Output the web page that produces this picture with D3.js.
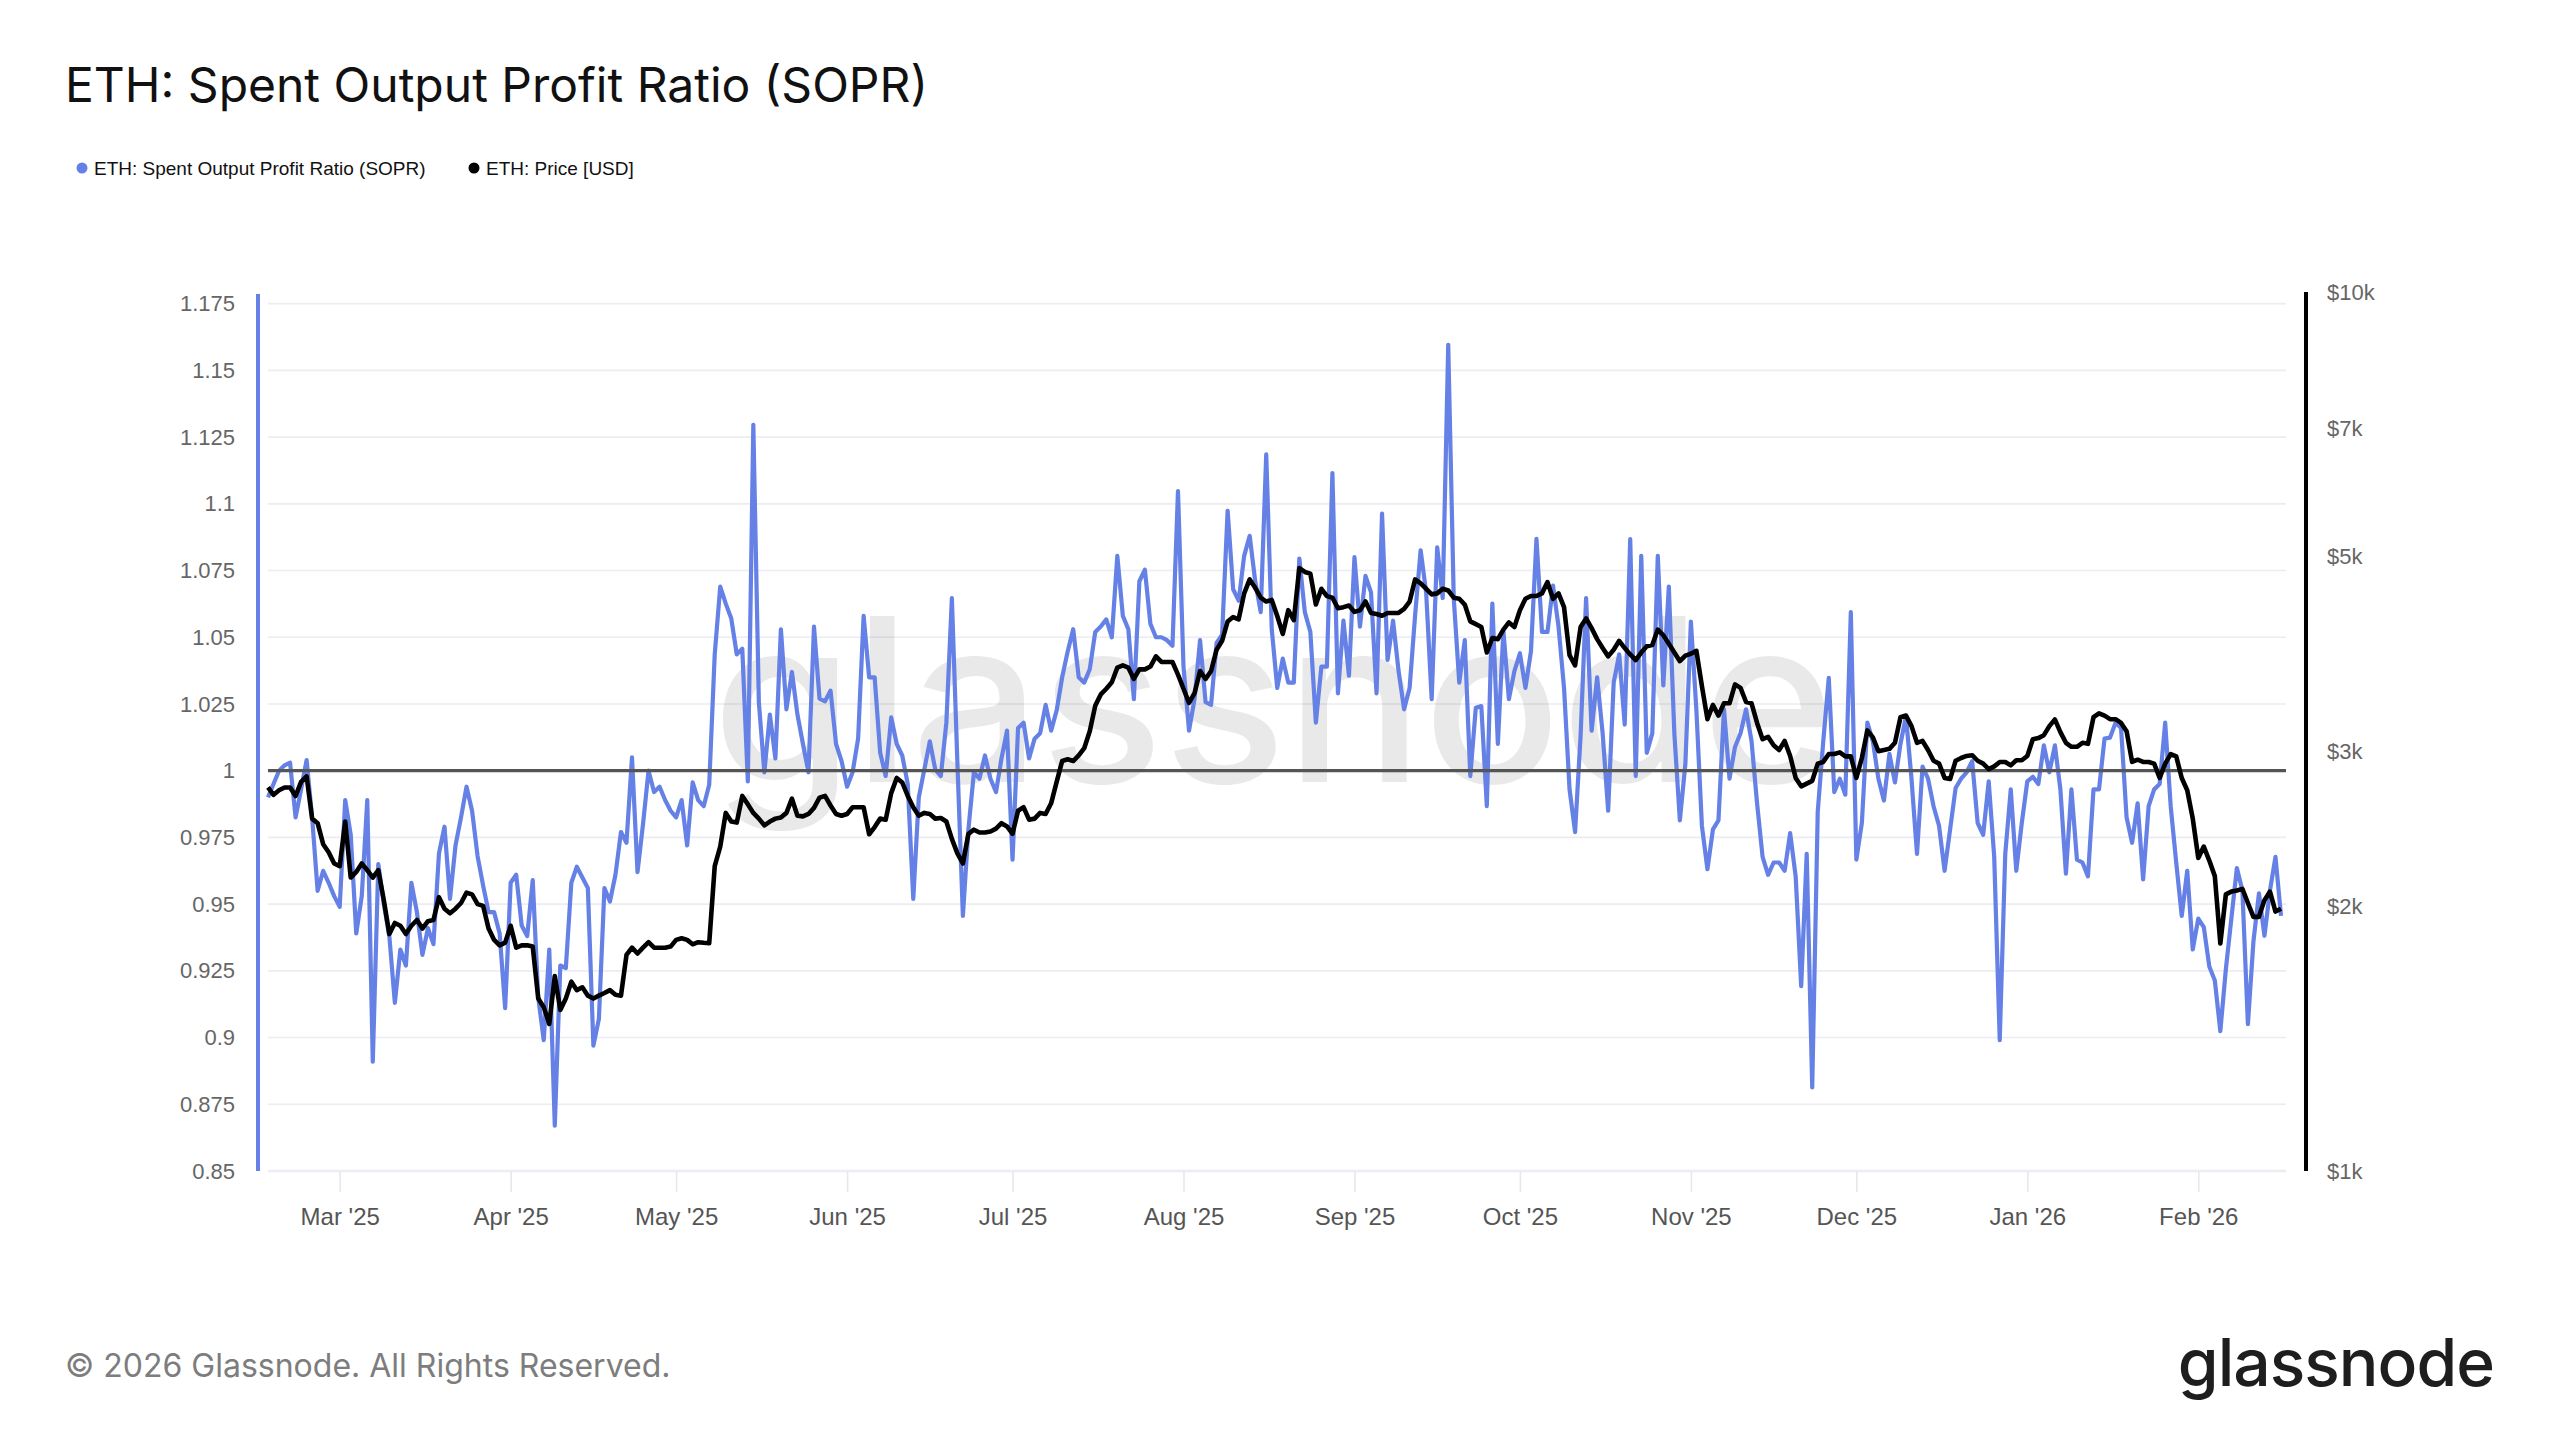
<!DOCTYPE html>
<html>
<head>
<meta charset="utf-8">
<title>ETH: Spent Output Profit Ratio (SOPR)</title>
<script src="https://cdn.jsdelivr.net/npm/d3@7.9.0/dist/d3.min.js"></script>
<style>
  html, body { margin: 0; padding: 0; background: #fff; }
  svg { display: block; }
  text { font-family: 'Liberation Sans', Arial, sans-serif; }
</style>
</head>
<body>
<div id="chart"></div>
<script>
/* ───────────────────────────────────────────── */
/* 1. Data (daily)       */
/* ───────────────────────────────────────────── */
const startDate = '2025-02-16';

const sopr = [
  0.990, 0.995, 1.000, 1.002, 1.003, 0.9825, 0.993, 1.004, 0.9825, 0.955,
  0.9625, 0.958, 0.953, 0.949, 0.989, 0.976, 0.939, 0.953, 0.989, 0.891,
  0.965, 0.950, 0.938, 0.913, 0.933, 0.927, 0.958, 0.947, 0.931, 0.941,
  0.935, 0.969, 0.979, 0.952, 0.972, 0.9825, 0.994, 0.985, 0.968, 0.957,
  0.947, 0.947, 0.939, 0.911, 0.958, 0.961, 0.942, 0.938, 0.959, 0.915,
  0.899, 0.933, 0.867, 0.927, 0.926, 0.958, 0.964, 0.960, 0.956, 0.897,
  0.907, 0.956, 0.951, 0.961, 0.977, 0.973, 1.005, 0.962, 0.980, 1.000,
  0.992, 0.994, 0.989, 0.985, 0.9825, 0.989, 0.972, 0.9956, 0.989, 0.9867,
  0.9947, 1.0436, 1.069, 1.0626, 1.057, 1.0436, 1.0457, 0.996, 1.1296, 1.0257,
  0.9994, 1.021, 1.0046, 1.053, 1.023, 1.037, 1.021, 1.010, 0.9994, 1.054,
  1.027, 1.026, 1.030, 1.010, 1.0036, 0.994, 0.9994, 1.012, 1.058, 1.035,
  1.035, 1.0067, 0.998, 1.020, 1.010, 1.0057, 0.995, 0.952, 0.990, 1.0004,
  1.011, 1.0004, 0.998, 1.018, 1.0647, 1.003, 0.9456, 0.978, 0.9994, 0.997,
  1.0057, 0.997, 0.992, 1.0046, 1.015, 0.9667, 1.016, 1.018, 1.0046, 1.012,
  1.014, 1.0247, 1.015, 1.0226, 1.035, 1.0447, 1.053, 1.035, 1.033, 1.038,
  1.052, 1.054, 1.0567, 1.050, 1.0805, 1.058, 1.053, 1.0268, 1.071, 1.0753,
  1.055, 1.050, 1.050, 1.0489, 1.0468, 1.1048, 1.039, 1.015, 1.0268, 1.0489,
  1.0257, 1.0247, 1.0479, 1.051, 1.0974, 1.068, 1.0637, 1.0805, 1.088, 1.071,
  1.0594, 1.1185, 1.053, 1.031, 1.042, 1.033, 1.033, 1.0795, 1.0594, 1.052,
  1.018, 1.039, 1.039, 1.1115, 1.029, 1.0562, 1.0356, 1.080, 1.054, 1.073,
  1.0668, 1.029, 1.0963, 1.0415, 1.0562, 1.0373, 1.023, 1.031, 1.0584, 1.0826,
  1.0668, 1.0268, 1.0837, 1.0647, 1.1596, 1.0647, 1.033, 1.0489, 0.998, 1.0236,
  1.0242, 0.9867, 1.0626, 1.010, 1.0525, 1.0268, 1.0373, 1.044, 1.031, 1.0447,
  1.0869, 1.052, 1.052, 1.0694, 1.054, 1.031, 0.993, 0.977, 1.013, 1.0647,
  1.015, 1.035, 1.014, 0.985, 1.033, 1.0436, 1.0173, 1.0868, 0.998, 1.0805,
  1.0067, 1.014, 1.0805, 1.032, 1.069, 1.014, 0.9814, 1.0025, 1.0559, 1.0226,
  0.9793, 0.9631, 0.978, 0.9814, 1.023, 0.997, 1.0089, 1.014, 1.023, 1.011,
  0.9878, 0.9677, 0.961, 0.9656, 0.9656, 0.9625, 0.9766, 0.9604, 0.9193, 0.9688,
  0.8813, 0.9846, 1.011, 1.0348, 0.992, 0.997, 0.991, 1.0594, 0.9667, 0.9804,
  1.018, 1.011, 0.997, 0.9888, 1.0063, 0.9956, 1.010, 1.0204, 0.997, 0.9688,
  1.0015, 0.997, 0.9867, 0.9793, 0.9625, 0.978, 0.9935, 0.997, 0.9994, 1.0036,
  0.9804, 0.976, 0.996, 0.9677, 0.899, 0.9688, 0.993, 0.9625, 0.9804, 0.996,
  0.9977, 0.995, 1.0095, 0.9994, 1.0095, 0.993, 0.9614, 0.993, 0.9667, 0.9656,
  0.9604, 0.993, 0.993, 1.012, 1.0124, 1.018, 1.016, 0.9825, 0.973, 0.9878,
  0.9593, 0.9867, 0.993, 0.995, 1.018, 0.9867, 0.9656, 0.9456, 0.9625, 0.933,
  0.9446, 0.9414, 0.9266, 0.9214, 0.9024, 0.9256, 0.9446, 0.9635, 0.9551, 0.905,
  0.936, 0.954, 0.9382, 0.9551, 0.9677, 0.9456
];

const price = [
  2731, 2679, 2711, 2731, 2731, 2671, 2771, 2812, 2517, 2487,
  2354, 2305, 2238, 2222, 2498, 2157, 2189, 2238, 2199, 2157,
  2199, 2033, 1860, 1915, 1901, 1860, 1901, 1930, 1887, 1924,
  1930, 2049, 1988, 1964, 1988, 2018, 2073, 2064, 2012, 2003,
  1887, 1832, 1806, 1819, 1901, 1795, 1806, 1806, 1800, 1571,
  1536, 1470, 1666, 1525, 1571, 1642, 1606, 1618, 1583, 1571,
  1583, 1594, 1606, 1587, 1583, 1761, 1795, 1768, 1795, 1821,
  1795, 1795, 1795, 1800, 1832, 1840, 1832, 1811, 1821, 1818,
  1816, 2222, 2339, 2555, 2498, 2491, 2671, 2613, 2555, 2517,
  2473, 2498, 2517, 2525, 2555, 2652, 2536, 2532, 2548, 2589,
  2659, 2671, 2605, 2548, 2536, 2548, 2593, 2593, 2593, 2416,
  2462, 2517, 2510, 2691, 2800, 2767, 2671, 2593, 2536, 2555,
  2548, 2517, 2521, 2498, 2387, 2298, 2238, 2419, 2445, 2427,
  2427, 2434, 2452, 2487, 2466, 2419, 2570, 2593, 2510, 2517,
  2555, 2548, 2620, 2771, 2927, 2940, 2927, 2970, 3027, 3165,
  3384, 3485, 3537, 3598, 3738, 3760, 3738, 3629, 3721, 3721,
  3749, 3850, 3794, 3794, 3794, 3671, 3537, 3408, 3496, 3705,
  3629, 3705, 3918, 4010, 4219, 4268, 4243, 4541, 4710, 4608,
  4490, 4445, 4464, 4280, 4083, 4345, 4233, 4853, 4803, 4782,
  4410, 4596, 4508, 4490, 4367, 4380, 4399, 4326, 4345, 4445,
  4314, 4302, 4283, 4314, 4314, 4314, 4360, 4445, 4710, 4661,
  4596, 4529, 4541, 4596, 4575, 4490, 4477, 4410, 4220, 4189,
  4158, 3889, 4040, 4028, 4130, 4208, 4158, 4345, 4477, 4510,
  4510, 4541, 4677, 4477, 4541, 4380, 3862, 3760, 4158, 4252,
  4146, 4028, 3935, 3850, 3918, 4010, 3935, 3870, 3813, 3889,
  3954, 3966, 4130, 4069, 3979, 3889, 3802, 3858, 3876, 3906,
  3562, 3266, 3390, 3297, 3405, 3405, 3578, 3545, 3416, 3405,
  3234, 3099, 3118, 3051, 3013, 3085, 2966, 2800, 2739, 2759,
  2779, 2907, 2920, 2981, 2981, 2994, 2963, 2963, 2800, 2950,
  3171, 3114, 3003, 3013, 3022, 3070, 3283, 3297, 3207, 3070,
  3085, 3013, 2929, 2907, 2800, 2792, 2929, 2950, 2966, 2972,
  2929, 2907, 2866, 2886, 2920, 2920, 2894, 2933, 2933, 2966,
  3099, 3108, 3132, 3207, 3264, 3157, 3070, 3038, 3038, 3070,
  3062, 3283, 3317, 3297, 3266, 3266, 3234, 3165, 2920, 2937,
  2920, 2920, 2907, 2800, 2907, 2981, 2963, 2800, 2711, 2517,
  2271, 2339, 2255, 2165, 1815, 2064, 2079, 2085, 2094, 2018,
  1946, 1946, 2033, 2079, 1973, 1988
];

const soprTicks  = [0.85, 0.875, 0.9, 0.925, 0.95, 0.975, 1, 1.025, 1.05, 1.075, 1.1, 1.125, 1.15, 1.175];
const priceTicks = [1000, 2000, 3000, 5000, 7000, 10000];
const monthTicks = ['2025-03-01', '2025-04-01', '2025-05-01', '2025-06-01', '2025-07-01', '2025-08-01',
                    '2025-09-01', '2025-10-01', '2025-11-01', '2025-12-01', '2026-01-01', '2026-02-01'];

const legendItems = [
  { label: 'ETH: Spent Output Profit Ratio (SOPR)', color: '#6581e6' },
  { label: 'ETH: Price [USD]', color: '#000' }
];

/* ───────────────────────────────────────────── */
/* 2. Layout                                     */
/* ───────────────────────────────────────────── */
const W = 2560, H = 1440;
const plot = { left: 268, right: 2281, gridL: 268, gridR: 2286, top: 293, bottom: 1171 };
const BLUE = '#6581e6';

const parse = d3.utcParse('%Y-%m-%d');
const t0 = parse(startDate);
const soprData  = sopr.map((v, i) => ({ date: d3.utcDay.offset(t0, i), v }));
const priceData = price.map((v, i) => ({ date: d3.utcDay.offset(t0, i), v }));

const x = d3.scaleUtc()
  .domain([t0, d3.utcDay.offset(t0, sopr.length - 1)])
  .range([plot.left, plot.right]);

const yL = d3.scaleLinear().domain([0.85, 1.179]).range([plot.bottom, plot.top]);
const yR = d3.scaleLog().domain([1000, 10000]).range([plot.bottom, 292]);

const svg = d3.select('#chart').append('svg')
  .attr('width', W).attr('height', H)
  .attr('viewBox', `0 0 ${W} ${H}`);

svg.append('rect').attr('width', W).attr('height', H).attr('fill', '#fff');

/* title + legend */
svg.append('text')
  .attr('x', 65).attr('y', 102)
  .style('font-family', 'Inter, sans-serif')
  .style('font-size', '48px')
  .attr('fill', '#111')
  .text('ETH: Spent Output Profit Ratio (SOPR)');

const legend = svg.append('g').attr('transform', 'translate(82,168)');
const legendX = [0, 392];
legendItems.forEach((d, i) => {
  const g = legend.append('g').attr('transform', `translate(${legendX[i]},0)`);
  g.append('circle').attr('r', 5.5).attr('fill', d.color);
  g.append('text').attr('x', 12).attr('dy', '0.35em')
    .style('font-size', '19px').attr('fill', '#111').text(d.label);
});

/* ───────────────────────────────────────────── */
/* 3. Grid, watermark                            */
/* ───────────────────────────────────────────── */
svg.append('g').attr('class', 'grid')
  .selectAll('line').data(soprTicks).join('line')
  .attr('x1', plot.gridL).attr('x2', plot.gridR)
  .attr('y1', d => yL(d)).attr('y2', d => yL(d))
  .attr('stroke', '#ececf2').attr('stroke-width', d => d === 0.85 ? 2.5 : 1.6);

svg.append('text')
  .attr('x', 1274).attr('y', 782)
  .attr('text-anchor', 'middle')
  .style('font-family', 'Inter, sans-serif')
  .style('font-size', '228px').style('font-weight', 500)
  .attr('fill', '#000').attr('fill-opacity', 0.085)
  .text('glassnode');

/* ───────────────────────────────────────────── */
/* 4. Axes                                       */
/* ───────────────────────────────────────────── */
const axL = svg.append('g')
  .attr('transform', `translate(258,0)`)
  .call(d3.axisLeft(yL).tickValues(soprTicks).tickSize(0).tickPadding(23)
    .tickFormat(d => String(+d.toFixed(3))));
axL.select('.domain').remove();
axL.selectAll('text').style('font-size', '22px').attr('fill', '#666')
  .style('font-family', "'Liberation Sans', Arial, sans-serif");
svg.append('line').attr('x1', 258).attr('x2', 258).attr('y1', 294).attr('y2', plot.bottom)
  .attr('stroke', BLUE).attr('stroke-width', 4);

const axR = svg.append('g')
  .attr('transform', `translate(2306,0)`)
  .call(d3.axisRight(yR).tickValues(priceTicks).tickSize(0).tickPadding(21)
    .tickFormat(d => `$${d / 1000}k`));
axR.select('.domain').remove();
axR.selectAll('text').style('font-size', '22px').attr('fill', '#666')
  .style('font-family', "'Liberation Sans', Arial, sans-serif");
svg.append('line').attr('x1', 2306).attr('x2', 2306).attr('y1', 292).attr('y2', plot.bottom)
  .attr('stroke', '#000').attr('stroke-width', 4);

const axB = svg.append('g')
  .attr('transform', `translate(0,${plot.bottom + 1})`)
  .call(d3.axisBottom(x).tickValues(monthTicks.map(parse)).tickSize(20)
    .tickFormat(d3.utcFormat("%b '%y")));
axB.select('.domain').remove();
axB.selectAll('line').attr('stroke', '#e8e8ec').attr('stroke-width', 1.6);
axB.selectAll('text').attr('y', 45).attr('dy', '0.35em')
  .style('font-size', '24px').attr('fill', '#555')
  .style('font-family', "'Liberation Sans', Arial, sans-serif");

/* ───────────────────────────────────────────── */
/* 5. Series                                     */
/* ───────────────────────────────────────────── */
svg.append('path')
  .datum(soprData)
  .attr('fill', 'none').attr('stroke', BLUE).attr('stroke-width', 4.2)
  .attr('stroke-linejoin', 'round')
  .attr('d', d3.line().x(d => x(d.date)).y(d => yL(d.v)));

svg.append('line')
  .attr('x1', plot.gridL).attr('x2', plot.gridR)
  .attr('y1', yL(1)).attr('y2', yL(1))
  .attr('stroke', '#555').attr('stroke-width', 3.2);

svg.append('path')
  .datum(priceData)
  .attr('fill', 'none').attr('stroke', '#000').attr('stroke-width', 4.6)
  .attr('stroke-linejoin', 'round')
  .attr('d', d3.line().x(d => x(d.date)).y(d => yR(d.v)));

/* ───────────────────────────────────────────── */
/* 6. Footer                                     */
/* ───────────────────────────────────────────── */
svg.append('text')
  .attr('x', 65).attr('y', 1377)
  .style('font-family', 'Inter, sans-serif')
  .style('font-size', '32px').attr('fill', '#7d7d7d')
  .text('© 2026 Glassnode. All Rights Reserved.');

svg.append('text')
  .attr('x', 2494).attr('y', 1386)
  .attr('text-anchor', 'end')
  .style('font-family', 'Inter, sans-serif')
  .style('font-size', '66px').style('font-weight', 500)
  .style('letter-spacing', '-1px')
  .attr('fill', '#1e1e1e')
  .text('glassnode');
</script>
</body>
</html>
